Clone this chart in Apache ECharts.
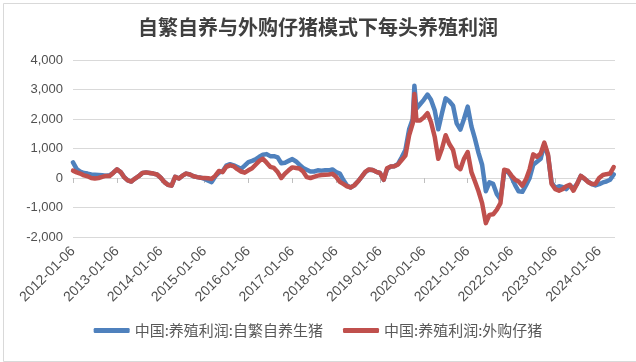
<!DOCTYPE html>
<html>
<head>
<meta charset="utf-8">
<script src="https://cdn.jsdelivr.net/npm/echarts@6/dist/echarts.min.js"></script>
<style>html,body{margin:0;padding:0;background:#fff;}#c{width:636px;height:362px;}</style>
</head>
<body>
<div id="c"></div>
<script>
const titleText = '自繁自养与外购仔猪模式下每头养殖利润';
const seriesNames = ['中国:养殖利润:自繁自养生猪', '中国:养殖利润:外购仔猪'];
const startYear = 2012;
const tickLabels = ['2012-01-06','2013-01-06','2014-01-06','2015-01-06','2016-01-06','2017-01-06','2018-01-06','2019-01-06','2020-01-06','2021-01-06','2022-01-06','2023-01-06','2024-01-06'];
const yTicks = [-2000, -1000, 0, 1000, 2000, 3000, 4000];
// monthly readings (yuan/head), one row per year, Jan..Dec
const selfBred = [
  530, 300, 220, 170, 150, 120, 110, 100, 90, 80, 90, 180,
  290, 200, 40, -80, -120, -20, 60, 170, 190, 170, 150, 120,
  10, -140, -230, -260, 40, -20, 80, 150, 120, 60, 30, 10,
  -30, -90, -140, 60, 180, 230, 420, 470, 430, 370, 310, 420,
  540, 580, 630, 720, 790, 810, 740, 740, 700, 500, 520, 580,
  640, 560, 450, 340, 280, 220, 220, 260, 250, 260, 260, 290,
  200, 150, -60, -250, -320, -250, -120, 40, 200, 280, 270, 210,
  170, -60, 300, 390, 400, 480, 700, 950, 1650, 2000, 2350, 2500,
  2650, 2830, 2650, 2300, 1650, 2200, 2700, 2600, 2450, 1850, 1640, 2000,
  2420, 1750, 1350, 850, 450, -450, -150, -200, -550, -720, 200, 220,
  30, -250, -450, -470, -250, 0, 450, 550, 650, 1150, 750, -150,
  -330, -280, -300, -380, -250, -350, -200, 70, -30, -120, -210, -250,
  -210, -150, -120, -60, 120
];
const purchased = [
  250, 190, 150, 90, 60, 0, -20, 0, 40, 70, 70, 170,
  290, 200, 30, -80, -120, -20, 60, 170, 190, 170, 150, 120,
  10, -140, -230, -260, 40, -20, 80, 150, 120, 60, 30, 10,
  0, -10, -30, 80, 240, 200, 380, 430, 400, 300, 220, 180,
  260, 330, 450, 580, 650, 520, 380, 340, 200, 0, 150, 260,
  360, 340, 320, 220, 30, 0, 40, 80, 100, 110, 120, 140,
  40, -130, -200, -280, -320, -250, -120, 40, 210, 290, 270, 210,
  170, -60, 330, 390, 400, 460, 610, 760, 1450, 1850, 1950, 1950,
  2050, 2200, 1900, 1400, 650, 1000, 1450, 1150, 950, 400, 300, 650,
  880, 200, -100, -450, -850, -1530, -1250, -1230, -1070, -850, 280, 250,
  80, -60, -120, -260, -50, 300, 800, 720, 830, 1200, 800, -200,
  -380, -430, -380, -280, -230, -430, -200, 70, -20, -140, -200, -200,
  0, 100, 130, 150, 370
];
// weekly peak between monthly readings
const peakDates = ['2019-10-20'];
const peakSelfBred = [3130];
const peakPurchased = [2850];
const axisEnd = '2024-05-17';

function pad(n){ return (n < 10 ? '0' : '') + n; }
const dates = selfBred.map((_, i) => (startYear + Math.floor(i / 12)) + '-' + pad(i % 12 + 1) + '-06');
function ts(s){ const p = s.split('-'); return Date.UTC(+p[0], +p[1] - 1, +p[2]); }
function build(vals, pVals){
  const arr = dates.map((d, i) => [ts(d), vals[i]]);
  peakDates.forEach((d, i) => arr.push([ts(d), pVals[i]]));
  arr.sort((a, b) => a[0] - b[0]);
  return arr;
}
const tickTs = tickLabels.map(ts);
function fmtDate(v){ const i = tickTs.indexOf(v); return i >= 0 ? tickLabels[i] : ''; }

const chart = echarts.init(document.getElementById('c'), null, {renderer: 'canvas'});
const labelColor = '#505050';
const font = '"Liberation Sans", "Noto Sans CJK SC", sans-serif';
chart.setOption({
  animation: false,
  backgroundColor: '#ffffff',
  graphic: [{
    type: 'rect', left: 1, top: 1, shape: {x: 0, y: 0, width: 633, height: 358},
    style: {fill: 'none', stroke: '#d9d9d9', lineWidth: 1}, silent: true
  }],
  title: {
    text: titleText, left: 'center', top: 12,
    textStyle: {fontFamily: '"Noto Sans CJK SC", sans-serif', fontSize: 20, fontWeight: 'bold', color: '#404040'}
  },
  legend: {
    bottom: 19, left: 'center', itemGap: 20, itemWidth: 36, itemHeight: 5, icon: 'roundRect',
    textStyle: {fontFamily: '"Noto Sans CJK SC", sans-serif', fontSize: 15, color: '#595959'}
  },
  grid: {left: 73, right: 21, top: 60, bottom: 125, containLabel: false},
  xAxis: [{
    type: 'value', min: ts(tickLabels[0]), max: ts(axisEnd), scale: true,
    axisLine: {show: true, onZero: true, lineStyle: {color: '#d9d9d9', width: 1}},
    axisTick: {show: true, length: 5, customValues: tickTs, lineStyle: {color: '#bfbfbf'}},
    axisLabel: {show: false},
    splitLine: {show: false}
  }, {
    type: 'value', position: 'bottom', min: ts(tickLabels[0]), max: ts(axisEnd), scale: true,
    axisLine: {show: false, onZero: false}, axisTick: {show: false}, splitLine: {show: false},
    axisLabel: {
      show: true, customValues: tickTs, rotate: 45, margin: 12,
      formatter: fmtDate, color: labelColor, fontFamily: font, fontSize: 14
    }
  }],
  yAxis: {
    type: 'value', min: yTicks[0], max: yTicks[yTicks.length - 1], interval: 1000,
    axisLine: {show: false}, axisTick: {show: false},
    axisLabel: {margin: 10, color: labelColor, fontFamily: font, fontSize: 13,
      formatter: v => v.toLocaleString('en-US')},
    splitLine: {lineStyle: {color: '#d9d9d9', width: 1}}
  },
  series: [{
    name: seriesNames[0], type: 'line', xAxisIndex: 0, data: build(selfBred, peakSelfBred),
    showSymbol: false, symbol: 'none', color: '#4F81BD',
    lineStyle: {width: 4.5, color: '#4F81BD', join: 'round', cap: 'round'}
  }, {
    name: seriesNames[1], type: 'line', xAxisIndex: 0, data: build(purchased, peakPurchased),
    showSymbol: false, symbol: 'none', color: '#C0504D',
    lineStyle: {width: 4.5, color: '#C0504D', join: 'round', cap: 'round'}
  }]
});
</script>
</body>
</html>
